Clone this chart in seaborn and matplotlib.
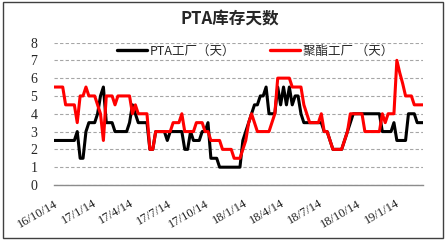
import numpy as np
import pandas as pd
import matplotlib
matplotlib.use("Agg")
import matplotlib.pyplot as plt
import seaborn as sns
from matplotlib.patches import Rectangle

# ---------------- data ----------------
start_date = "2016-10-14"
n_weeks = 128

pta = ([2.5] * 8 + [3] + [1.5] * 2 + [3] + [3.5] * 3 + [4, 5, 5.5] + [3.5] * 3
       + [3] * 5 + [3.5, 4.5, 4] + [3.5] * 4 + [2] * 2 + [3] * 4 + [2.5] + [3] * 5
       + [2] * 2 + [3] + [2.5] * 3 + [3] * 2 + [3.5] + [1.5] * 3 + [1] * 8
       + [2.5, 3, 3.5, 4] + [4.5] * 2 + [5] * 2 + [5.5] + [4] * 3
       + [5.5, 4.5, 5.5, 4.5, 5.5, 4.5] + [5] * 2 + [4] + [3.5] * 7 + [3] * 2
       + [2.5] + [2] * 4 + [2.5, 3, 3.5] + [4] * 10 + [3] * 4 + [3.5]
       + [2.5] * 4 + [4] * 3 + [3.5] * 3)

polyester = ([5.5] * 4 + [4.5] * 4 + [3.5] + [5] * 2 + [5.5] + [5] * 3
             + [4.5, 4, 2.5] + [5] * 3 + [4.5] + [5] * 5 + [4, 4.5] + [4] * 4
             + [2] * 2 + [3] * 6 + [3.5] * 3 + [4] + [3] * 4 + [3.5] * 3 + [3] * 2
             + [2.5] * 4 + [2] * 4 + [1.5] * 3 + [2, 2.5, 3.5, 4, 3.5] + [3] * 5
             + [3.5, 4] + [6] * 5 + [5.5] * 4 + [4.5, 4] + [3.5] * 4 + [4]
             + [3] * 2 + [2.5] + [2] * 4 + [2.5, 3] + [4] * 5 + [3] * 6
             + [4, 3.5] + [4] * 3 + [7, 6.3, 5.7] + [5] * 3 + [4.5] * 4)

series_names = ["PTA工厂（天）", "聚酯工厂 （天）"]
series_colors = ["#000000", "#ff0000"]

tick_dates = ["2016-10-14", "2017-01-14", "2017-04-14", "2017-07-14",
              "2017-10-14", "2018-01-14", "2018-04-14", "2018-07-14",
              "2018-10-14", "2019-01-14"]
tick_labels = ["16/10/14", "17/1/14", "17/4/14", "17/7/14", "17/10/14",
               "18/1/14", "18/4/14", "18/7/14", "18/10/14", "19/1/14"]
y_ticks = [0, 1, 2, 3, 4, 5, 6, 7, 8]

dates = pd.date_range(start_date, periods=n_weeks, freq="7D")
df = pd.DataFrame({
    "date": np.concatenate([dates, dates]),
    "value": pta + polyester,
    "series": [series_names[0]] * n_weeks + [series_names[1]] * n_weeks,
})

# ---------------- style ----------------
sns.set_style("white")
plt.rcParams["font.family"] = ["Noto Sans CJK SC", "DejaVu Sans"]

fig = plt.figure(figsize=(4.47, 2.43), dpi=100)
ax = fig.add_axes([0.1208, 0.2387, 0.8255, 0.5864])

sns.lineplot(data=df, x="date", y="value", hue="series",
             palette=dict(zip(series_names, series_colors)),
             linewidth=2.2, ax=ax, legend=True)

ax.set_xlim(dates[0], dates[-1])
ax.set_ylim(0, 8)
ax.set_yticks(y_ticks)
ax.set_yticklabels([str(v) for v in y_ticks], fontfamily="Liberation Serif",
                   fontsize=10)
ax.set_xticks(pd.to_datetime(tick_dates))
ax.set_xticklabels(tick_labels, fontfamily="Liberation Serif", fontsize=9,
                   rotation=30, ha="right", va="top", rotation_mode="anchor")
ax.set_xlabel("")
ax.set_ylabel("")

ax.yaxis.grid(True, linestyle=(0, (3, 2)), color="#a6a6a6", linewidth=0.8)
ax.xaxis.grid(False)
ax.set_axisbelow(True)
for s in ["top", "right", "left"]:
    ax.spines[s].set_visible(False)
ax.spines["bottom"].set_color("#8c8c8c")
ax.spines["bottom"].set_linewidth(1.0)
ax.tick_params(axis="x", direction="out", length=4, color="#8c8c8c",
               width=1.0, pad=5)
ax.tick_params(axis="y", length=0, pad=12)

leg = ax.legend(loc="center", bbox_to_anchor=(0.545, 0.94), ncol=2,
                frameon=False, fontsize=9, handlelength=2.4,
                handletextpad=0.2, columnspacing=2.8, borderpad=0.1)
for line in leg.get_lines():
    line.set_linewidth(2.4)

fig.text(0.5145, 0.918, "PTA库存天数", ha="center", va="center",
         fontsize=12, fontweight="bold")

fig.patches.append(Rectangle((0.006, 0.0206), 0.985, 0.971,
                             transform=fig.transFigure, fill=False,
                             edgecolor="#404040", linewidth=1.0))

fig.savefig("out.png", dpi=100)
